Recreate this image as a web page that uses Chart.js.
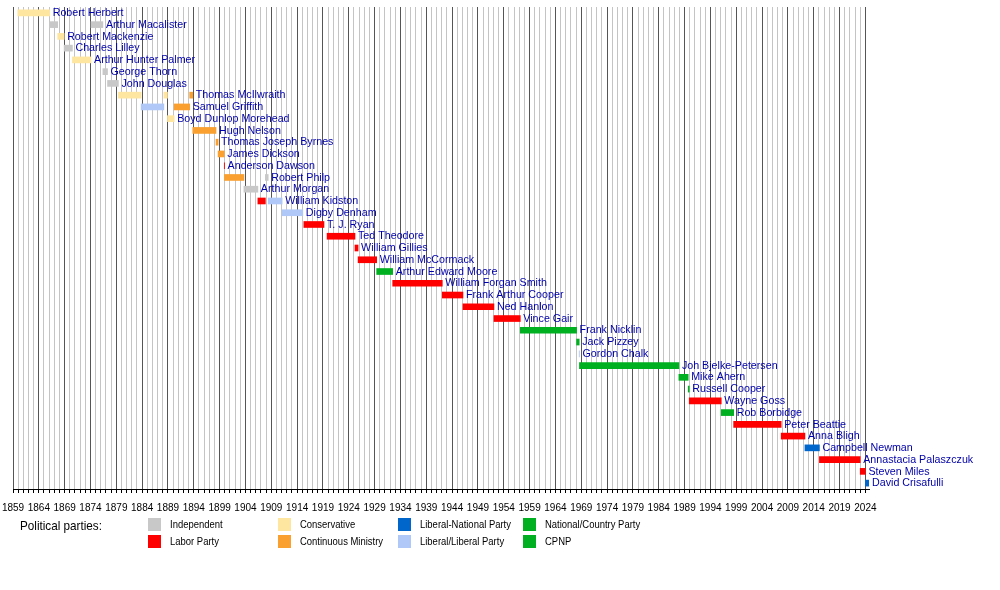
<!DOCTYPE html>
<html><head><meta charset="utf-8">
<script src="https://cdn.jsdelivr.net/npm/chart.js@4/dist/chart.umd.min.js"></script>
<style>html,body{margin:0;padding:0;background:#fff}</style>
</head><body>
<canvas id="c" width="1000" height="590"></canvas>
<script>
const premiers = ["Robert Herbert","Arthur Macalister","Robert Mackenzie","Charles Lilley","Arthur Hunter Palmer","George Thorn","John Douglas","Thomas McIlwraith","Samuel Griffith","Boyd Dunlop Morehead","Hugh Nelson","Thomas Joseph Byrnes","James Dickson","Anderson Dawson","Robert Philp","Arthur Morgan","William Kidston","Digby Denham","T. J. Ryan","Ted Theodore","William Gillies","William McCormack","Arthur Edward Moore","William Forgan Smith","Frank Arthur Cooper","Ned Hanlon","Vince Gair","Frank Nicklin","Jack Pizzey","Gordon Chalk","Joh Bjelke-Petersen","Mike Ahern","Russell Cooper","Wayne Goss","Rob Borbidge","Peter Beattie","Anna Bligh","Campbell Newman","Annastacia Palaszczuk","Steven Miles","David Crisafulli"];
const termPremier = ["Robert Herbert","Arthur Macalister","Arthur Macalister","Robert Mackenzie","Charles Lilley","Arthur Hunter Palmer","Arthur Macalister","George Thorn","John Douglas","Thomas McIlwraith","Samuel Griffith","Thomas McIlwraith","Boyd Dunlop Morehead","Samuel Griffith","Thomas McIlwraith","Hugh Nelson","Thomas Joseph Byrnes","James Dickson","Anderson Dawson","Robert Philp","Arthur Morgan","William Kidston","Robert Philp","William Kidston","Digby Denham","T. J. Ryan","Ted Theodore","William Gillies","William McCormack","Arthur Edward Moore","William Forgan Smith","Frank Arthur Cooper","Ned Hanlon","Vince Gair","Frank Nicklin","Jack Pizzey","Gordon Chalk","Joh Bjelke-Petersen","Mike Ahern","Russell Cooper","Wayne Goss","Rob Borbidge","Peter Beattie","Anna Bligh","Campbell Newman","Annastacia Palaszczuk","Steven Miles","David Crisafulli"];
const termStart = [1859.93,1866.1,1866.6,1867.65,1868.9,1870.5,1874.1,1876.4,1877.3,1879.4,1883.8,1888.2,1888.9,1890.2,1893.2,1893.8,1898.3,1898.7,1899.9,1899.93,1903.7,1906.4,1907.85,1908.4,1911.1,1915.3,1919.8,1925.2,1925.8,1929.4,1932.5,1942.1,1946.1,1952.1,1957.2,1968.1,1968.6,1968.65,1987.9,1989.7,1989.9,1996.1,1998.5,2007.7,2012.3,2015.1,2023.0,2024.0];
const termEnd =   [1866.1,1866.55,1867.65,1868.9,1870.5,1874.1,1876.4,1877.3,1879.4,1883.8,1888.2,1888.9,1890.2,1893.2,1893.8,1898.3,1898.7,1899.9,1899.95,1903.7,1906.4,1907.85,1908.4,1911.1,1915.1,1919.2,1925.2,1925.8,1929.4,1932.5,1942.1,1946.1,1952.1,1957.2,1968.1,1968.6,1968.65,1987.9,1989.7,1989.9,1996.1,1998.5,2007.7,2012.3,2015.1,2023.0,2024.0,2024.7];
const termParty = ["Conservative","Independent","Independent","Conservative","Independent","Conservative","Independent","Independent","Independent","Conservative","Liberal/Liberal Party","Conservative","Conservative","Continuous Ministry","Continuous Ministry","Continuous Ministry","Continuous Ministry","Continuous Ministry","Labor Party","Continuous Ministry","Independent","Labor Party","Independent","Liberal/Liberal Party","Liberal/Liberal Party","Labor Party","Labor Party","Labor Party","Labor Party","CPNP","Labor Party","Labor Party","Labor Party","Labor Party","National/Country Party","National/Country Party","Liberal/Liberal Party","National/Country Party","National/Country Party","National/Country Party","Labor Party","National/Country Party","Labor Party","Labor Party","Liberal-National Party","Labor Party","Labor Party","Liberal-National Party"];
const parties = ["Independent","Labor Party","Conservative","Continuous Ministry","Liberal-National Party","Liberal/Liberal Party","National/Country Party","CPNP"];
const partyColors = ["#c8c8c8","#ff0000","#ffe6a0","#f9a030","#0066cc","#b0c8f8","#00b020","#00b020"];
const axisMin = 1859, axisMax = 2024.7;

const datasets = parties.map((p,i)=>({
  label:p, backgroundColor:partyColors[i], grouped:false, barThickness:6,
  data: termParty.map((tp,k)=>tp===p?{x:[termStart[k],Math.min(termEnd[k],axisMax)],y:termPremier[k]}:null).filter(Boolean)
}));

const labelPlugin = {
  id:'labels',
  afterDatasetsDraw(chart){
    const ctx=chart.ctx, xs=chart.scales.x, ys=chart.scales.y;
    ctx.save();
    ctx.fillStyle='#0000a8'; ctx.textBaseline='middle';
    ctx.font='11.5px "Liberation Sans", Arial, sans-serif';
    premiers.forEach((n,i)=>{
      let end=-Infinity;
      termPremier.forEach((t,k)=>{ if(t===n) end=Math.max(end,Math.min(termEnd[k],axisMax)); });
      ctx.save(); ctx.translate(xs.getPixelForValue(end)+3, ys.getPixelForValue(i)); ctx.scale(0.93,1);
      ctx.fillText(n,0,0); ctx.restore();
    });
    ctx.restore();
  },
  afterDraw(chart){
    const ctx=chart.ctx;
    ctx.save();
    ctx.font='13px "Liberation Sans", Arial, sans-serif';
    ctx.fillStyle='#000'; ctx.textBaseline='middle';
    ctx.save(); ctx.translate(20,526); ctx.scale(0.9,1); ctx.fillText('Political parties:',0,0); ctx.restore();
    const cols=[148,278,398,523], order=[[0,1],[2,3],[4,5],[6,7]];
    ctx.font='11px "Liberation Sans", Arial, sans-serif';
    order.forEach((pair,c)=>pair.forEach((pi,r)=>{
      const y=r?541:524;
      ctx.fillStyle=partyColors[pi]; ctx.fillRect(cols[c],y-6,13,13);
      ctx.fillStyle='#000';
      ctx.save(); ctx.translate(cols[c]+22,y+1); ctx.scale(0.86,1); ctx.fillText(parties[pi],0,0); ctx.restore();
    }));
    ctx.restore();
  }
};

new Chart(document.getElementById('c'),{
  type:'bar',
  data:{labels:premiers,datasets},
  options:{
    indexAxis:'y', responsive:false, animation:false,
    layout:{padding:{left:13,right:131,top:7,bottom:67}},
    plugins:{legend:{display:false},tooltip:{enabled:false}},
    scales:{
      x:{type:'linear',min:axisMin,max:axisMax,
        afterBuildTicks:s=>{const t=[];for(let v=1859;v<=2024;v++)t.push({value:v});s.ticks=t;},
        afterFit:s=>{s.paddingLeft=0;s.paddingRight=0;},
        border:{color:'#000',width:1},
        grid:{color:c=>((c.tick&&(c.tick.value-1859)%5===0)?'#555':'#c4c4c4'),tickLength:4,tickColor:'#000'},
        ticks:{autoSkip:false,maxRotation:0,padding:9,color:'#000',
          font:{size:10,family:'"Liberation Sans Narrow", "Liberation Sans", Arial'},
          callback:v=>((v-1859)%5===0?String(v):'')}},
      y:{display:false}
    }
  },
  plugins:[labelPlugin]
});
</script>
</body></html>
